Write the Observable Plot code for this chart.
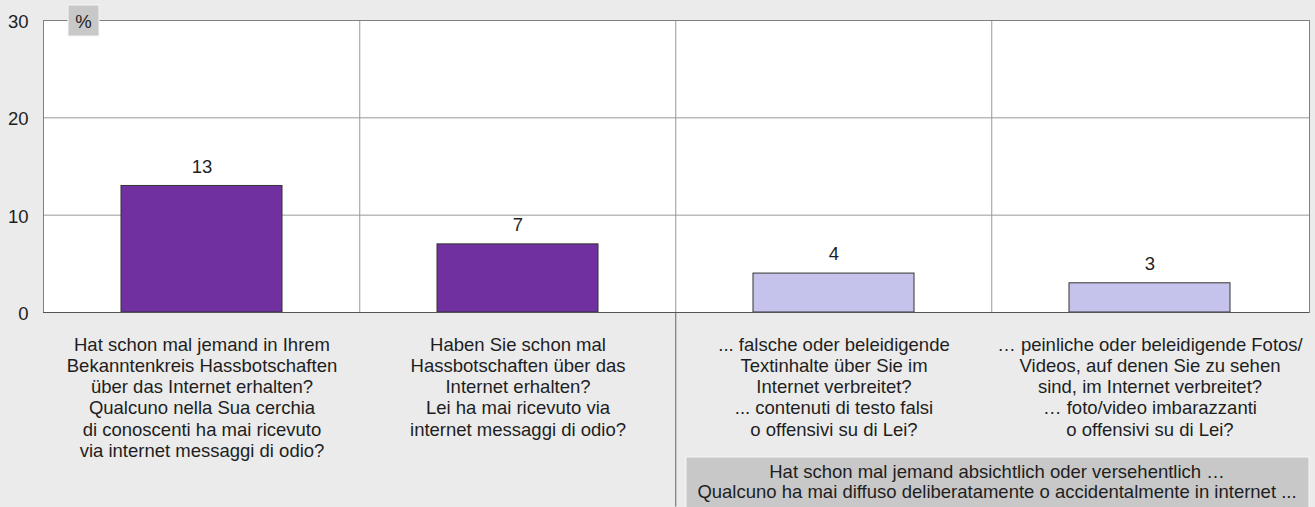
<!DOCTYPE html>
<html><head><meta charset="utf-8">
<script src="https://cdn.jsdelivr.net/npm/d3@7"></script>
<script src="https://cdn.jsdelivr.net/npm/@observablehq/plot@0.6"></script>
<style>
body{margin:0;background:#ebebeb;font-family:"Liberation Sans",Arial,sans-serif;}
#chart{position:relative;width:1315px;height:507px;}
</style></head><body><div id="chart"></div>
<script>
const categories = ["q1", "q2", "q3", "q4"];
const labels = [
  "Hat schon mal jemand in Ihrem\nBekanntenkreis Hassbotschaften\nüber das Internet erhalten?\nQualcuno nella Sua cerchia\ndi conoscenti ha mai ricevuto\nvia internet messaggi di odio?",
  "Haben Sie schon mal\nHassbotschaften über das\nInternet erhalten?\nLei ha mai ricevuto via\ninternet messaggi di odio?",
  "... falsche oder beleidigende\nTextinhalte über Sie im\nInternet verbreitet?\n... contenuti di testo falsi\no offensivi su di Lei?",
  "… peinliche oder beleidigende Fotos/\nVideos, auf denen Sie zu sehen\nsind, im Internet verbreitet?\n… foto/video imbarazzanti\no offensivi su di Lei?"
];
const values = [13, 7, 4, 3];
const groups = ["own", "own", "about", "about"];
const groupColors = ["#7030a0", "#c5c3ec"];
const yTicks = [0, 10, 20, 30];
const unitLabel = "%";
const noteLines = [
  "Hat schon mal jemand absichtlich oder versehentlich …",
  "Qualcuno ha mai diffuso deliberatamente o accidentalmente in internet ..."
];

const W = 1315, H = 507, ml = 43, mr = 6, mt = 20, mb = 195;
const step = (W - ml - mr) / categories.length;
const data = categories.map((c, i) => ({cat: c, value: values[i], group: groups[i]}));
const font = "'Liberation Sans', Arial, sans-serif";
const fs = 18.5;

const plot = Plot.plot({
  width: W, height: H,
  marginLeft: ml, marginRight: mr, marginTop: mt, marginBottom: mb,
  style: {background: "transparent", fontFamily: font, fontSize: fs + "px", color: "#1e1e1e"},
  x: {domain: categories, paddingInner: 0.49, paddingOuter: 0.245, label: null},
  y: {domain: [0, 30], ticks: yTicks, label: null},
  color: {domain: ["own", "about"], range: groupColors},
  marks: [
    Plot.frame({fill: "white", stroke: "none"}),
    Plot.ruleY(yTicks.slice(1, 3), {stroke: "#999"}),
    Plot.ruleX(categories.slice(1), {x: d => d, dx: -step / 2, stroke: "#999"}),
    Plot.ruleX([categories[2]], {x: d => d, dx: -step / 2, y1: 0, y2: -20, stroke: "#666"}),
    Plot.barY(data, {x: "cat", y: "value", fill: "group", stroke: "#333", strokeWidth: 1}),
    Plot.text(data, {x: "cat", y: "value", text: d => String(d.value), dy: -19, fontSize: fs, fill: "#1e1e1e"}),
    Plot.frame({stroke: "#808080"}),
    Plot.ruleY([0], {stroke: "#555"}),
    Plot.axisX({tickSize: 0, tickPadding: 23, fontSize: fs, lineHeight: 1.15,
      tickFormat: d => labels[categories.indexOf(d)]}),
    Plot.axisY({ticks: yTicks, tickSize: 0, tickPadding: 15, dy: 1.5, fontSize: fs})
  ]
});
document.getElementById("chart").appendChild(plot);

// unit label box and note box
const svg = d3.select(plot);
const g1 = svg.append("g");
g1.append("rect").attr("x", 68).attr("y", 5).attr("width", 31).attr("height", 31)
  .attr("fill", "#c8c8c8").attr("stroke", "#f6f6f6");
g1.append("text").attr("x", 83.5).attr("y", 21.5).attr("text-anchor", "middle")
  .attr("dominant-baseline", "central").attr("font-size", fs).attr("fill", "#1e1e1e").text(unitLabel);

const g2 = svg.append("g");
g2.append("rect").attr("x", 686).attr("y", 457).attr("width", 623).attr("height", 52)
  .attr("fill", "#c8c8c8").attr("stroke", "#f6f6f6");
noteLines.forEach((t, i) => {
  g2.append("text").attr("x", 997).attr("y", 471 + i * 20.5).attr("text-anchor", "middle")
    .attr("dominant-baseline", "central").attr("font-size", fs).attr("fill", "#1e1e1e").text(t);
});
</script></body></html>
